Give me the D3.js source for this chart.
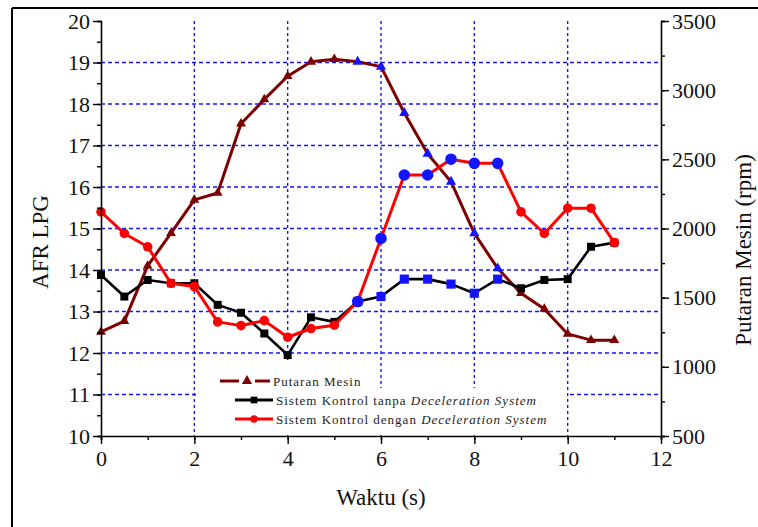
<!DOCTYPE html>
<html>
<head>
<meta charset="utf-8">
<script src="https://cdn.jsdelivr.net/npm/d3@7/dist/d3.min.js"></script>
<style>
  html, body { margin: 0; padding: 0; background: #fff; }
  svg { display: block; }
  svg text { font-family: 'Liberation Serif', 'Times New Roman', Tinos, 'DejaVu Serif', serif !important; }
</style>
</head>
<body>
<svg id="chart" width="758" height="527"></svg>
<script>
// Time samples (s)
const waktu = [0, 0.5, 1, 1.5, 2, 2.5, 3, 3.5, 4, 4.5, 5, 5.5, 6, 6.5, 7, 7.5, 8, 8.5, 9, 9.5, 10, 10.5, 11];
// Engine speed (rpm), right axis
const putaranMesin = [1253, 1331, 1730, 1967, 2207, 2257, 2757, 2933, 3101, 3205, 3224, 3205, 3170, 2835, 2540, 2338, 1965, 1712, 1532, 1418, 1238, 1193, 1193];
// AFR without deceleration system
const afrTanpa = [13.88, 13.36, 13.76, 13.68, 13.68, 13.16, 12.97, 12.47, 11.95, 12.86, 12.75, 13.24, 13.36, 13.78, 13.78, 13.66, 13.44, 13.78, 13.56, 13.76, 13.78, 14.56, 14.66];
// AFR with deceleration system
const afrDengan = [15.40, 14.88, 14.56, 13.68, 13.60, 12.75, 12.66, 12.78, 12.38, 12.59, 12.67, 13.24, 14.76, 16.29, 16.29, 16.67, 16.57, 16.57, 15.40, 14.88, 15.49, 15.49, 14.66];
// Deceleration window where markers are highlighted
const deceleration = [5.5, 8.5];

const xTicks = [0, 2, 4, 6, 8, 10, 12];
const yLeftTicks = [10, 11, 12, 13, 14, 15, 16, 17, 18, 19, 20];
const yRightTicks = [500, 1000, 1500, 2000, 2500, 3000, 3500];

const legendLabels = [
  ["Putaran Mesin", ""],
  ["Sistem Kontrol tanpa ", "Deceleration System"],
  ["Sistem Kontrol dengan ", "Deceleration System"]
];

const SERIF = "'Liberation Serif', 'Times New Roman', Tinos, 'DejaVu Serif', serif";

const svg = d3.select("#chart");

const x = d3.scaleLinear().domain([0, 12]).range([101, 661]);
const yL = d3.scaleLinear().domain([10, 20]).range([436, 21]);
const yR = d3.scaleLinear().domain([500, 3500]).range([436, 21]);

const BLUE = "#1414ff";
const MAROON = "#7d0000";
const inHighlight = t => t >= deceleration[0] && t <= deceleration[1];

// outer frame (top and left edges)
svg.append("line").attr("x1", 12).attr("x2", 758).attr("y1", 8).attr("y2", 8)
  .attr("stroke", "#000").attr("stroke-width", 2);
svg.append("line").attr("x1", 12).attr("x2", 12).attr("y1", 8).attr("y2", 527)
  .attr("stroke", "#000").attr("stroke-width", 2);

// grid
const grid = svg.append("g");
grid.selectAll("line.h").data(yLeftTicks.filter(v => v > 10 && v < 20)).join("line")
  .attr("class", "h")
  .attr("x1", x(0)).attr("x2", x(12))
  .attr("y1", d => yL(d)).attr("y2", d => yL(d))
  .attr("stroke", BLUE).attr("stroke-width", 1.4).attr("stroke-dasharray", "4,3");
grid.selectAll("line.v").data(xTicks.filter(v => v > 0 && v < 12)).join("line")
  .attr("class", "v")
  .attr("x1", d => x(d)).attr("x2", d => x(d))
  .attr("y1", yL(20)).attr("y2", yL(10))
  .attr("stroke", BLUE).attr("stroke-width", 1.4).attr("stroke-dasharray", "3,3");

// legend backdrop
const legend = svg.append("g");
legend.append("rect").attr("x", 216).attr("y", 362).attr("width", 152).attr("height", 28).attr("fill", "#fff");
legend.append("rect").attr("x", 197).attr("y", 388).attr("width", 370).attr("height", 47).attr("fill", "#fff");

// series
const lineGen = (yScale, vals) => d3.line()
  .x((d, i) => x(waktu[i]))
  .y((d, i) => yScale(vals[i]));

function drawSeries(vals, yScale, color, width, marker, size, hiSize) {
  const g = svg.append("g");
  g.append("path").datum(vals)
    .attr("d", lineGen(yScale, vals))
    .attr("fill", "none").attr("stroke", color)
    .attr("stroke-width", width).attr("stroke-linejoin", "round");
  g.selectAll("path.m").data(vals).join("path")
    .attr("class", "m")
    .attr("transform", (d, i) => `translate(${x(waktu[i])},${yScale(d)})`)
    .attr("d", (d, i) => d3.symbol().type(marker).size(inHighlight(waktu[i]) ? hiSize : size)())
    .attr("fill", (d, i) => inHighlight(waktu[i]) ? BLUE : color);
}

drawSeries(putaranMesin, yR, MAROON, 3, d3.symbolTriangle, 42, 46);
drawSeries(afrTanpa, yL, "#000", 2.6, d3.symbolSquare, 64, 84);
drawSeries(afrDengan, yL, "#ff0000", 3, d3.symbolCircle, 72, 105);

// axes
const axisStyle = g => {
  g.attr("font-family", null).style("font-family", SERIF);
  g.selectAll("path.domain").attr("stroke", "#000").attr("stroke-width", 1.6);
  g.selectAll(".tick line").attr("stroke", "#000").attr("stroke-width", 1.4);
  g.selectAll("text").style("font-family", SERIF).attr("font-size", 22).attr("fill", "#111");
};

const xMinor = d3.range(0, 12.01, 1);
svg.append("g").attr("transform", `translate(0,${yL(10)})`)
  .call(d3.axisBottom(x).tickValues(xMinor).tickSize(4).tickFormat(""))
  .call(axisStyle);
svg.append("g").attr("transform", `translate(0,${yL(10)})`)
  .call(d3.axisBottom(x).tickValues(xTicks).tickSize(8).tickPadding(6).tickFormat(d3.format("d")))
  .call(axisStyle)
  .call(g => g.select("path.domain").remove());

const yLMinor = d3.range(10, 20.01, 0.5);
svg.append("g").attr("transform", `translate(${x(0)},0)`)
  .call(d3.axisLeft(yL).tickValues(yLMinor).tickSize(4).tickFormat(""))
  .call(axisStyle);
svg.append("g").attr("transform", `translate(${x(0)},0)`)
  .call(d3.axisLeft(yL).tickValues(yLeftTicks).tickSize(8).tickPadding(3).tickFormat(d3.format("d")))
  .call(axisStyle)
  .call(g => g.select("path.domain").remove());

const yRMinor = d3.range(500, 3501, 250);
svg.append("g").attr("transform", `translate(${x(12)},0)`)
  .call(d3.axisRight(yR).tickValues(yRMinor).tickSize(4).tickFormat(""))
  .call(axisStyle);
svg.append("g").attr("transform", `translate(${x(12)},0)`)
  .call(d3.axisRight(yR).tickValues(yRightTicks).tickSize(8).tickPadding(3).tickFormat(d3.format("d")))
  .call(axisStyle)
  .call(g => g.select("path.domain").remove());

// axis titles
const title = (sel) => sel.style("font-family", SERIF).attr("font-size", 23).attr("fill", "#111").attr("text-anchor", "middle");
svg.append("text").attr("x", 381).attr("y", 505).call(title).text("Waktu (s)");
svg.append("text").attr("transform", "translate(48,242) rotate(-90)").call(title).text("AFR LPG");
svg.append("text").attr("transform", "translate(751,250) rotate(-90)").call(title).text("Putaran Mesin (rpm)");

// legend entries
const rows = [
  { y: 381, color: MAROON, marker: d3.symbolTriangle, x1: 220, x2: 270, mx: 247, gap: true, tx: 273 },
  { y: 400, color: "#000", marker: d3.symbolSquare, x1: 235, x2: 273, mx: 254, gap: false, tx: 276 },
  { y: 419, color: "#ff0000", marker: d3.symbolCircle, x1: 235, x2: 273, mx: 254, gap: false, tx: 276 }
];
rows.forEach((r, i) => {
  if (r.gap) {
    legend.append("line").attr("x1", r.x1).attr("x2", r.mx - 8).attr("y1", r.y).attr("y2", r.y)
      .attr("stroke", r.color).attr("stroke-width", 3);
    legend.append("line").attr("x1", r.mx + 8).attr("x2", r.x2).attr("y1", r.y).attr("y2", r.y)
      .attr("stroke", r.color).attr("stroke-width", 3);
  } else {
    legend.append("line").attr("x1", r.x1).attr("x2", r.x2).attr("y1", r.y).attr("y2", r.y)
      .attr("stroke", r.color).attr("stroke-width", 3);
  }
  legend.append("path").attr("transform", `translate(${r.mx},${r.y})`)
    .attr("d", d3.symbol().type(r.marker).size(45)()).attr("fill", r.color);
  const t = legend.append("text").attr("x", r.tx).attr("y", r.y + 4.5)
    .style("font-family", SERIF).attr("font-size", 13).attr("letter-spacing", 1.0).attr("fill", "#222");
  t.append("tspan").text(legendLabels[i][0]);
  if (legendLabels[i][1]) t.append("tspan").attr("font-style", "italic").text(legendLabels[i][1]);
});
</script>
</body>
</html>
